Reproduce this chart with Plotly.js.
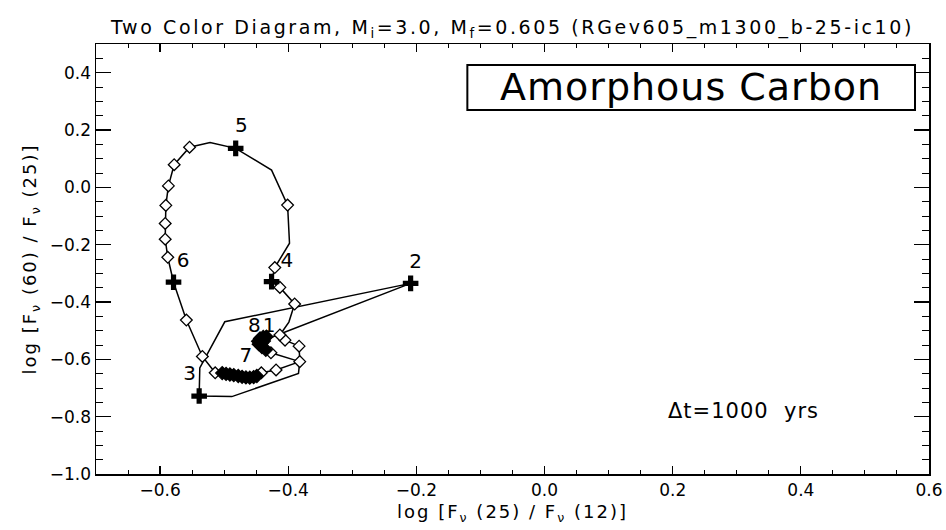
<!DOCTYPE html>
<html>
<head>
<meta charset="utf-8">
<script src="https://cdn.plot.ly/plotly-3.0.1.min.js"></script>
<style>
html,body{margin:0;padding:0;background:#fff;}
#chart{width:946px;height:530px;}
#chart .gtitle{letter-spacing:2.6px;}
#chart .xtitle,#chart .ytitle{letter-spacing:2px;}
#chart .annotation-text{letter-spacing:1px;}
</style>
</head>
<body>
<div id="chart"></div>
<script>
// Evolutionary track (1 -> 2 -> 3 -> 4 -> 5 -> 6 -> 7 -> 8)
const trackX = [-0.432, -0.209, -0.499, -0.538, -0.539, -0.488, -0.384, -0.382, -0.383, -0.405, -0.413, -0.399, -0.390, -0.413, -0.426,
  -0.421, -0.398, -0.401, -0.426, -0.482, -0.522, -0.554, -0.578, -0.587, -0.591, -0.592, -0.592, -0.588, -0.579,
  -0.559, -0.534, -0.514, -0.503, -0.497, -0.491, -0.485, -0.478, -0.472, -0.466, -0.460, -0.454, -0.449, -0.442, -0.419, -0.382,
  -0.427, -0.435, -0.441, -0.446, -0.447, -0.444, -0.439, -0.434];
const trackY = [-0.528, -0.335, -0.469, -0.630, -0.728, -0.730, -0.649, -0.608, -0.554, -0.533, -0.515, -0.470, -0.407, -0.349, -0.329,
  -0.280, -0.195, -0.062, 0.060, 0.136, 0.156, 0.140, 0.079, 0.005, -0.063, -0.126, -0.181, -0.244, -0.331,
  -0.463, -0.590, -0.647, -0.648, -0.651, -0.653, -0.655, -0.658, -0.661, -0.663, -0.664, -0.662, -0.658, -0.647, -0.637, -0.608,
  -0.577, -0.567, -0.557, -0.547, -0.537, -0.527, -0.522, -0.521];

// 1000-yr time steps (open diamonds)
const stepX = [-0.382, -0.383, -0.405, -0.413, -0.390, -0.413, -0.421, -0.401, -0.554, -0.578, -0.587, -0.591, -0.592, -0.592, -0.588,
  -0.559, -0.534, -0.514, -0.442, -0.419, -0.427];
const stepY = [-0.608, -0.554, -0.533, -0.515, -0.407, -0.349, -0.280, -0.062, 0.140, 0.079, 0.005, -0.063, -0.126, -0.181, -0.244,
  -0.463, -0.590, -0.647, -0.647, -0.637, -0.577];

// densely packed time steps (clusters near 7 and 8/1)
const clusterX = [-0.503, -0.497, -0.491, -0.485, -0.478, -0.472, -0.466, -0.460, -0.454, -0.449,
  -0.435, -0.441, -0.446, -0.447, -0.444, -0.439, -0.434, -0.438, -0.442];
const clusterY = [-0.648, -0.651, -0.653, -0.655, -0.658, -0.661, -0.663, -0.664, -0.662, -0.658,
  -0.567, -0.557, -0.547, -0.537, -0.527, -0.522, -0.521, -0.536, -0.545];

// numbered points (crosses)
const markX = [-0.209, -0.539, -0.426, -0.482, -0.579];
const markY = [-0.335, -0.728, -0.329, 0.136, -0.331];

// number labels
const labelText = ['8', '1', '2', '3', '4', '5', '6', '7'];
const labelX = [-0.453, -0.430, -0.201, -0.554, -0.402, -0.473, -0.564, -0.466];
const labelY = [-0.488, -0.488, -0.263, -0.655, -0.259, 0.211, -0.259, -0.593];

const titleText = 'Two Color Diagram, M<sub>i</sub>=3.0, M<sub>f</sub>=0.605 (RGev605_m1300_b-25-ic10)';
const xTitle = 'log [F<sub>ν</sub> (25) / F<sub>ν</sub> (12)]';
const yTitle = 'log [F<sub>ν</sub> (60) / F<sub>ν</sub> (25)]';
const boxText = 'Amorphous Carbon';
const dtText = 'Δt=1000  yrs';

const FONT = 'DejaVu Sans, sans-serif';

const traces = [
  {x: trackX, y: trackY, mode: 'lines', type: 'scatter', line: {color: '#000', width: 1.5}, hoverinfo: 'skip'},
  {x: stepX, y: stepY, mode: 'markers', type: 'scatter',
   marker: {symbol: 'diamond', size: 9, color: '#fff', line: {color: '#000', width: 1.3}}},
  {x: clusterX, y: clusterY, mode: 'markers', type: 'scatter',
   marker: {symbol: 'diamond', size: 10, color: '#000', line: {color: '#000', width: 1.3}}},
  {x: markX, y: markY, mode: 'markers', type: 'scatter',
   marker: {symbol: 'cross', size: 13, color: '#000', line: {width: 0}}},
  {x: labelX, y: labelY, mode: 'text', type: 'scatter', text: labelText,
   textfont: {family: FONT, size: 20, color: '#000'}, textposition: 'middle center'}
];

const axisCommon = {
  showgrid: false, zeroline: false, showline: true, linecolor: '#000', linewidth: 1.5,
  mirror: 'ticks', ticks: 'inside', tickcolor: '#000', tickwidth: 1.2,
  tickfont: {family: FONT, size: 17, color: '#000'}, tickformat: '.1f'
};

const layout = {
  width: 946, height: 530,
  margin: {l: 96, r: 17, t: 44, b: 56},
  paper_bgcolor: '#fff', plot_bgcolor: '#fff',
  showlegend: false,
  title: {text: titleText, font: {family: FONT, size: 19, color: '#000'},
          x: 0.5, xref: 'paper', xanchor: 'center', y: 1 - 27 / 530, yref: 'container', yanchor: 'middle'},
  xaxis: Object.assign({}, axisCommon, {
    range: [-0.7, 0.6], tick0: 0, dtick: 0.2, ticklen: 8,
    minor: {ticks: 'inside', dtick: 0.05, ticklen: 4, tickcolor: '#000', tickwidth: 1},
    title: {text: xTitle, font: {family: FONT, size: 18, color: '#000'}, standoff: 6}
  }),
  yaxis: Object.assign({}, axisCommon, {
    range: [-1.0, 0.5], tick0: 0, dtick: 0.2, ticklen: 15,
    minor: {ticks: 'inside', dtick: 0.05, ticklen: 7, tickcolor: '#000', tickwidth: 1},
    title: {text: yTitle, font: {family: FONT, size: 18, color: '#000'}, standoff: 8}
  }),
  shapes: [
    {type: 'rect', xref: 'paper', yref: 'paper', x0: 0.4458, x1: 0.9832, y0: 0.8465, y1: 0.9512,
     line: {color: '#000', width: 2}, fillcolor: 'rgba(0,0,0,0)'}
  ],
  annotations: [
    {text: boxText, xref: 'paper', yref: 'paper', x: 0.7145, y: 0.899, xanchor: 'center', yanchor: 'middle',
     showarrow: false, font: {family: FONT, size: 38, color: '#000'}},
    {text: dtText, xref: 'paper', yref: 'paper', x: (672 - 96) / 833, y: (474 - 411) / 430, xanchor: 'left', yanchor: 'middle',
     showarrow: false, font: {family: FONT, size: 21, color: '#000'}}
  ]
};

Plotly.newPlot('chart', traces, layout, {staticPlot: true, displayModeBar: false});
</script>
</body>
</html>
